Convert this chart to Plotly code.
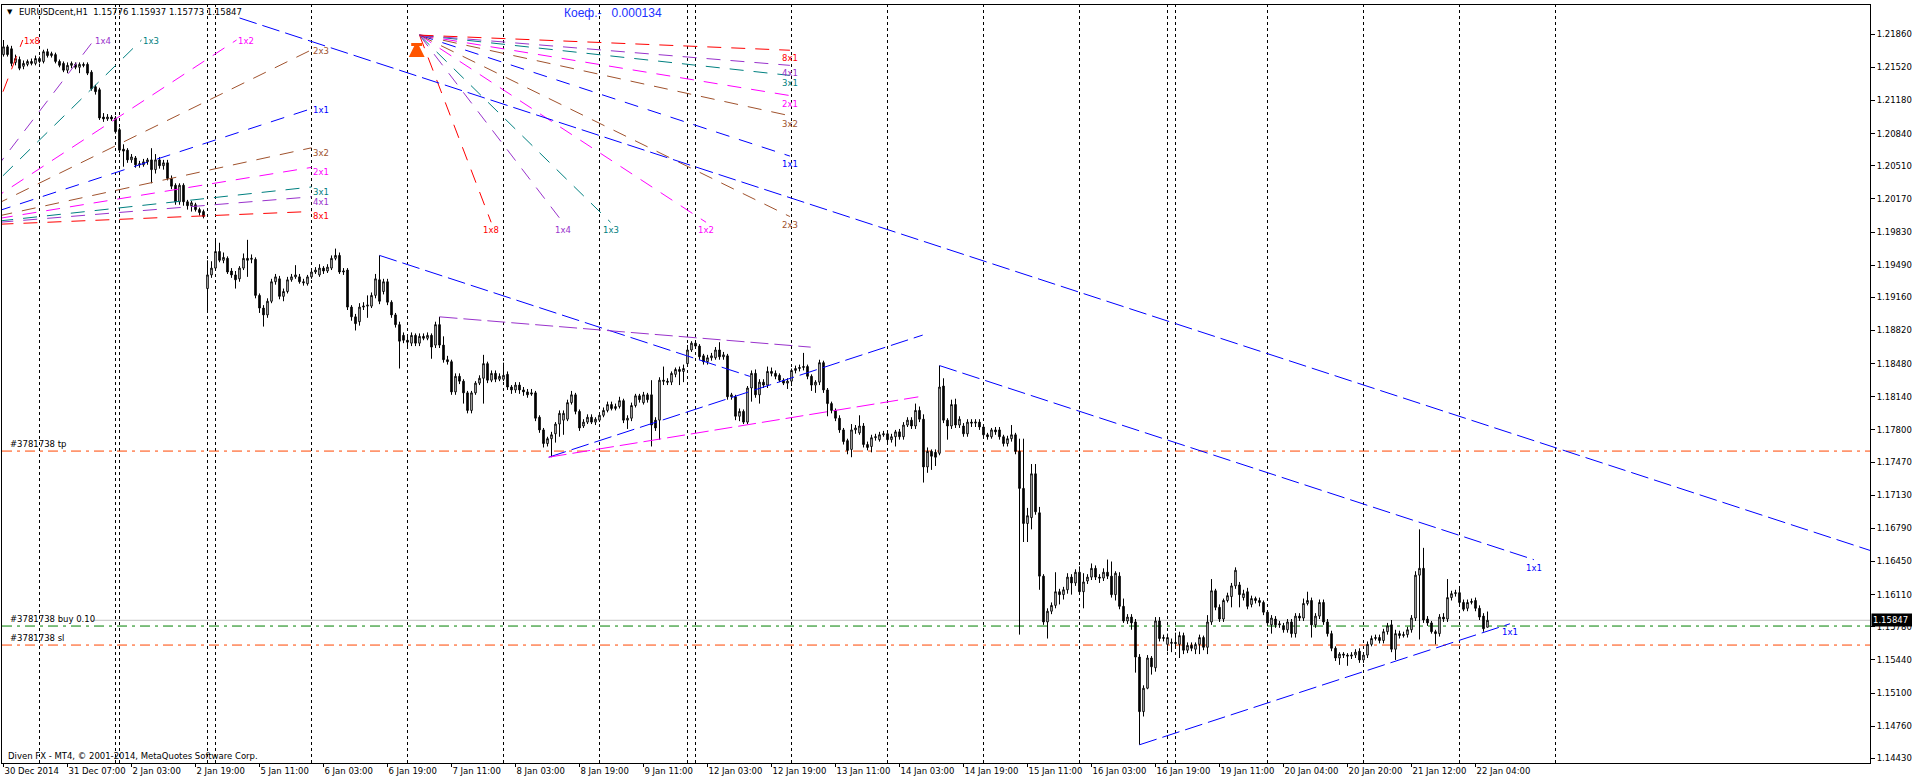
import plotly.graph_objects as go

# ---------------- data ----------------
time_labels = ["30 Dec 2014", "31 Dec 07:00", "2 Jan 03:00", "2 Jan 19:00", "5 Jan 11:00",
               "6 Jan 03:00", "6 Jan 19:00", "7 Jan 11:00", "8 Jan 03:00", "8 Jan 19:00",
               "9 Jan 11:00", "12 Jan 03:00", "12 Jan 19:00", "13 Jan 11:00", "14 Jan 03:00",
               "14 Jan 19:00", "15 Jan 11:00", "16 Jan 03:00", "16 Jan 19:00", "19 Jan 11:00",
               "20 Jan 04:00", "20 Jan 20:00", "21 Jan 12:00", "22 Jan 04:00"]
label_bars = [0, 16, 32, 48, 64, 80, 96, 112, 128, 144, 160, 176, 192, 208, 224,
              240, 256, 272, 288, 304, 320, 336, 352, 368]

opens = [
    1.2165, 1.2173, 1.2171, 1.2157, 1.2160, 1.2153, 1.2155, 1.2158, 1.2156, 1.2161,
    1.2158, 1.2168, 1.2164, 1.2165, 1.2158, 1.2156, 1.2149, 1.2154, 1.2155, 1.2152,
    1.2155, 1.2155, 1.2147, 1.2132, 1.2129, 1.2101, 1.2099, 1.2101, 1.2100, 1.2088,
    1.2068, 1.2067, 1.2057, 1.2059, 1.2052, 1.2052, 1.2055, 1.2057, 1.2047, 1.2057,
    1.2051, 1.2054, 1.2038, 1.2031, 1.2014, 1.2031, 1.2014, 1.2010, 1.2011, 1.2006,
    1.2004, 1.1925, 1.1939, 1.1946, 1.1963, 1.1954, 1.1956, 1.1943, 1.1939, 1.1935,
    1.1946, 1.1956, 1.1955, 1.1955, 1.1918, 1.1905, 1.1898, 1.1912, 1.1932, 1.1935,
    1.1917, 1.1922, 1.1934, 1.1937, 1.1937, 1.1932, 1.1930, 1.1937, 1.1942, 1.1939,
    1.1946, 1.1943, 1.1946, 1.1956, 1.1959, 1.1942, 1.1944, 1.1906, 1.1896, 1.1891,
    1.1906, 1.1907, 1.1907, 1.1918, 1.1934, 1.1922, 1.1932, 1.1911, 1.1898, 1.1888,
    1.1877, 1.1872, 1.1869, 1.1877, 1.1869, 1.1876, 1.1874, 1.1877, 1.1867, 1.1888,
    1.1867, 1.1852, 1.1850, 1.1819, 1.1835, 1.1830, 1.1818, 1.1800, 1.1818, 1.1828,
    1.1833, 1.1848, 1.1831, 1.1838, 1.1832, 1.1832, 1.1837, 1.1824, 1.1821, 1.1826,
    1.1821, 1.1819, 1.1818, 1.1818, 1.1793, 1.1780, 1.1766, 1.1771, 1.1776, 1.1786,
    1.1790, 1.1791, 1.1808, 1.1816, 1.1799, 1.1784, 1.1788, 1.1793, 1.1788, 1.1790,
    1.1795, 1.1800, 1.1806, 1.1802, 1.1804, 1.1810, 1.1790, 1.1792, 1.1805, 1.1815,
    1.1808, 1.1816, 1.1816, 1.1790, 1.1790, 1.1831, 1.1830, 1.1829, 1.1837, 1.1842,
    1.1840, 1.1848, 1.1862, 1.1869, 1.1866, 1.1856, 1.1850, 1.1854, 1.1854, 1.1862,
    1.1855, 1.1856, 1.1814, 1.1814, 1.1794, 1.1799, 1.1788, 1.1823, 1.1838, 1.1816,
    1.1829, 1.1826, 1.1840, 1.1838, 1.1836, 1.1831, 1.1828, 1.1830, 1.1841, 1.1843,
    1.1844, 1.1845, 1.1835, 1.1826, 1.1829, 1.1849, 1.1821, 1.1807, 1.1800, 1.1792,
    1.1780, 1.1769, 1.1760, 1.1780, 1.1777, 1.1784, 1.1765, 1.1763, 1.1772, 1.1770,
    1.1775, 1.1776, 1.1770, 1.1773, 1.1778, 1.1773, 1.1785, 1.1790, 1.1784, 1.1800,
    1.1791, 1.1742, 1.1758, 1.1757, 1.1756, 1.1825, 1.1790, 1.1784, 1.1806, 1.1785,
    1.1784, 1.1776, 1.1788, 1.1787, 1.1788, 1.1783, 1.1775, 1.1773, 1.1780, 1.1780,
    1.1773, 1.1766, 1.1771, 1.1775, 1.1758, 1.1720, 1.1684, 1.1690, 1.1735, 1.1695,
    1.1630, 1.1583, 1.1594, 1.1600, 1.1614, 1.1611, 1.1616, 1.1629, 1.1623, 1.1634,
    1.1614, 1.1625, 1.1629, 1.1638, 1.1629, 1.1628, 1.1634, 1.1630, 1.1611, 1.1630,
    1.1599, 1.1584, 1.1588, 1.1583, 1.1547, 1.1491, 1.1515, 1.1546, 1.1536, 1.1584,
    1.1566, 1.1560, 1.1561, 1.1562, 1.1560, 1.1569, 1.1554, 1.1559, 1.1555, 1.1560,
    1.1567, 1.1557, 1.1583, 1.1615, 1.1598, 1.1586, 1.1605, 1.1609, 1.1620, 1.1621,
    1.1608, 1.1614, 1.1601, 1.1607, 1.1605, 1.1603, 1.1593, 1.1580, 1.1586, 1.1580,
    1.1579, 1.1575, 1.1583, 1.1571, 1.1589, 1.1587, 1.1602, 1.1605, 1.1580, 1.1589,
    1.1603, 1.1583, 1.1571, 1.1556, 1.1546, 1.1550, 1.1549, 1.1548, 1.1549, 1.1553,
    1.1544, 1.1549, 1.1560, 1.1566, 1.1567, 1.1564, 1.1573, 1.1580, 1.1555, 1.1571,
    1.1569, 1.1570, 1.1575, 1.1587, 1.1631, 1.1638, 1.1586, 1.1582, 1.1573, 1.1571,
    1.1588, 1.1586, 1.1608, 1.1612, 1.1613, 1.1603, 1.1597, 1.1603, 1.1605, 1.1597,
    1.1589, 1.15776]

highs = [
    1.2180, 1.2175, 1.2174, 1.2165, 1.2163, 1.2159, 1.2160, 1.2161, 1.2164, 1.2163,
    1.2170, 1.2171, 1.2168, 1.2167, 1.2160, 1.2158, 1.2157, 1.2158, 1.2157, 1.2157,
    1.2157, 1.2157, 1.2149, 1.2134, 1.2131, 1.2105, 1.2104, 1.2103, 1.2102, 1.2090,
    1.2073, 1.2069, 1.2063, 1.2061, 1.2056, 1.2058, 1.2059, 1.2069, 1.2063, 1.2060,
    1.2057, 1.2057, 1.2041, 1.2033, 1.2033, 1.2033, 1.2016, 1.2015, 1.2013, 1.2008,
    1.2006, 1.1954, 1.1953, 1.1975, 1.1972, 1.1962, 1.1958, 1.1946, 1.1943, 1.1948,
    1.1961, 1.1975, 1.1960, 1.1957, 1.1920, 1.1908, 1.1915, 1.1935, 1.1940, 1.1938,
    1.1925, 1.1937, 1.1940, 1.1949, 1.1940, 1.1935, 1.1939, 1.1946, 1.1947, 1.1950,
    1.1948, 1.1950, 1.1959, 1.1966, 1.1962, 1.1946, 1.1946, 1.1908, 1.1899, 1.1910,
    1.1911, 1.1918, 1.1921, 1.1940, 1.1959, 1.1935, 1.1935, 1.1913, 1.1900, 1.1891,
    1.1880, 1.1876, 1.1880, 1.1879, 1.1879, 1.1879, 1.1880, 1.1879, 1.1891, 1.1896,
    1.1876, 1.1856, 1.1852, 1.1838, 1.1838, 1.1832, 1.1820, 1.1820, 1.1830, 1.1836,
    1.1857, 1.1850, 1.1841, 1.1841, 1.1838, 1.1849, 1.1840, 1.1826, 1.1829, 1.1829,
    1.1824, 1.1822, 1.1822, 1.1820, 1.1795, 1.1782, 1.1773, 1.1778, 1.1788, 1.1800,
    1.1800, 1.1811, 1.1820, 1.1818, 1.1801, 1.1791, 1.1796, 1.1796, 1.1793, 1.1798,
    1.1803, 1.1809, 1.1809, 1.1807, 1.1814, 1.1812, 1.1795, 1.1808, 1.1817, 1.1817,
    1.1819, 1.1818, 1.1831, 1.1793, 1.1834, 1.1845, 1.1833, 1.1840, 1.1844, 1.1845,
    1.1847, 1.1867, 1.1871, 1.1871, 1.1868, 1.1858, 1.1857, 1.1859, 1.1865, 1.1870,
    1.1860, 1.1858, 1.1818, 1.1816, 1.1802, 1.1801, 1.1825, 1.1841, 1.1842, 1.1832,
    1.1832, 1.1845, 1.1844, 1.1841, 1.1838, 1.1833, 1.1833, 1.1843, 1.1846, 1.1847,
    1.1859, 1.1847, 1.1837, 1.1831, 1.1852, 1.1851, 1.1823, 1.1809, 1.1802, 1.1795,
    1.1782, 1.1771, 1.1786, 1.1785, 1.1795, 1.1787, 1.1768, 1.1775, 1.1776, 1.1778,
    1.1779, 1.1779, 1.1776, 1.1780, 1.1781, 1.1788, 1.1793, 1.1793, 1.1807, 1.1804,
    1.1796, 1.1762, 1.1760, 1.1760, 1.1846, 1.1833, 1.1792, 1.1811, 1.1812, 1.1794,
    1.1787, 1.1791, 1.1791, 1.1791, 1.1791, 1.1785, 1.1777, 1.1782, 1.1783, 1.1783,
    1.1775, 1.1774, 1.1785, 1.1777, 1.1771, 1.1771, 1.1700, 1.1745, 1.1745, 1.1701,
    1.1632, 1.1597, 1.1603, 1.1634, 1.1617, 1.1619, 1.1633, 1.1632, 1.1637, 1.1640,
    1.1633, 1.1632, 1.1643, 1.1641, 1.1632, 1.1638, 1.1647, 1.1645, 1.1635, 1.1634,
    1.1607, 1.1591, 1.1591, 1.1586, 1.1550, 1.1518, 1.1549, 1.1548, 1.1588, 1.1588,
    1.1570, 1.1571, 1.1566, 1.1572, 1.1573, 1.1572, 1.1562, 1.1562, 1.1562, 1.1570,
    1.1569, 1.1590, 1.1627, 1.1617, 1.1601, 1.1607, 1.1613, 1.1623, 1.1639, 1.1624,
    1.1616, 1.1618, 1.1610, 1.1609, 1.1608, 1.1605, 1.1595, 1.1590, 1.1589, 1.1584,
    1.1582, 1.1586, 1.1586, 1.1592, 1.1592, 1.1607, 1.1614, 1.1608, 1.1592, 1.1606,
    1.1606, 1.1586, 1.1574, 1.1558, 1.1552, 1.1552, 1.1551, 1.1552, 1.1555, 1.1556,
    1.1552, 1.1563, 1.1569, 1.1570, 1.1570, 1.1576, 1.1582, 1.1585, 1.1575, 1.1574,
    1.1573, 1.1578, 1.1590, 1.1635, 1.1678, 1.1659, 1.1589, 1.1584, 1.1575, 1.1591,
    1.1592, 1.1627, 1.1615, 1.1616, 1.1618, 1.1606, 1.1606, 1.1607, 1.1608, 1.1600,
    1.1592, 1.15937]

lows = [
    1.2163, 1.2163, 1.2153, 1.2154, 1.2149, 1.2150, 1.2153, 1.2154, 1.2154, 1.2156,
    1.2156, 1.2162, 1.2162, 1.2156, 1.2152, 1.2147, 1.2146, 1.2151, 1.2150, 1.2146,
    1.2152, 1.2144, 1.2128, 1.2124, 1.2098, 1.2096, 1.2097, 1.2097, 1.2084, 1.2064,
    1.2050, 1.2054, 1.2054, 1.2049, 1.2049, 1.2050, 1.2052, 1.2033, 1.2043, 1.2048,
    1.2047, 1.2036, 1.2027, 1.2011, 1.2011, 1.2010, 1.2006, 1.2004, 1.2004, 1.2000,
    1.1997, 1.1903, 1.1936, 1.1944, 1.1952, 1.1951, 1.1940, 1.1936, 1.1925, 1.1932,
    1.1944, 1.1937, 1.1951, 1.1915, 1.1900, 1.1886, 1.1895, 1.1910, 1.1929, 1.1914,
    1.1912, 1.1920, 1.1932, 1.1935, 1.1930, 1.1928, 1.1928, 1.1935, 1.1940, 1.1937,
    1.1940, 1.1941, 1.1944, 1.1954, 1.1940, 1.1939, 1.1903, 1.1892, 1.1882, 1.1887,
    1.1903, 1.1895, 1.1905, 1.1915, 1.1909, 1.1919, 1.1908, 1.1895, 1.1885, 1.1843,
    1.1869, 1.1866, 1.1866, 1.1866, 1.1866, 1.1872, 1.1872, 1.1853, 1.1864, 1.1864,
    1.1849, 1.1847, 1.1816, 1.1816, 1.1827, 1.1807, 1.1797, 1.1797, 1.1816, 1.1826,
    1.1807, 1.1828, 1.1829, 1.1829, 1.1830, 1.1830, 1.1821, 1.1817, 1.1818, 1.1817,
    1.1815, 1.1813, 1.1815, 1.1789, 1.1777, 1.1762, 1.1763, 1.1752, 1.1767, 1.1773,
    1.1775, 1.1789, 1.1806, 1.1796, 1.1779, 1.1782, 1.1786, 1.1786, 1.1785, 1.1788,
    1.1793, 1.1798, 1.1800, 1.1800, 1.1802, 1.1787, 1.1781, 1.1789, 1.1803, 1.1808,
    1.1806, 1.1808, 1.1763, 1.1779, 1.1770, 1.1826, 1.1826, 1.1826, 1.1834, 1.1826,
    1.1829, 1.1845, 1.1860, 1.1863, 1.1852, 1.1847, 1.1847, 1.1851, 1.1852, 1.1852,
    1.1852, 1.1811, 1.1811, 1.1790, 1.1789, 1.1786, 1.1786, 1.1809, 1.1813, 1.1807,
    1.1823, 1.1823, 1.1835, 1.1832, 1.1829, 1.1826, 1.1822, 1.1825, 1.1838, 1.1840,
    1.1841, 1.1832, 1.1820, 1.1818, 1.1826, 1.1818, 1.1794, 1.1797, 1.1789, 1.1777,
    1.1765, 1.1755, 1.1752, 1.1776, 1.1775, 1.1762, 1.1759, 1.1757, 1.1769, 1.1768,
    1.1773, 1.1767, 1.1767, 1.1763, 1.1770, 1.1770, 1.1783, 1.1781, 1.1781, 1.1788,
    1.1726, 1.1736, 1.1739, 1.1743, 1.1754, 1.1787, 1.1770, 1.1781, 1.1782, 1.1782,
    1.1773, 1.1773, 1.1783, 1.1783, 1.1780, 1.1772, 1.1770, 1.1771, 1.1775, 1.1770,
    1.1763, 1.1763, 1.1768, 1.1755, 1.1570, 1.1665, 1.1665, 1.1678, 1.1693, 1.1616,
    1.1580, 1.1566, 1.1591, 1.1597, 1.1601, 1.1606, 1.1612, 1.1611, 1.1620, 1.1611,
    1.1597, 1.1622, 1.1626, 1.1626, 1.1623, 1.1625, 1.1627, 1.1608, 1.1605, 1.1596,
    1.1582, 1.1581, 1.1575, 1.1531, 1.1457, 1.1486, 1.1514, 1.1529, 1.1532, 1.1563,
    1.1563, 1.1553, 1.1552, 1.1556, 1.1546, 1.1550, 1.1551, 1.1553, 1.1550, 1.1550,
    1.1554, 1.1550, 1.1580, 1.1595, 1.1583, 1.1583, 1.1603, 1.1598, 1.1617, 1.1598,
    1.1605, 1.1596, 1.1598, 1.1602, 1.1599, 1.1590, 1.1579, 1.1571, 1.1577, 1.1577,
    1.1572, 1.1572, 1.1567, 1.1567, 1.1584, 1.1584, 1.1600, 1.1567, 1.1577, 1.1586,
    1.1580, 1.1568, 1.1553, 1.1543, 1.1539, 1.1546, 1.1538, 1.1545, 1.1546, 1.1541,
    1.1541, 1.1546, 1.1558, 1.1564, 1.1561, 1.1561, 1.1570, 1.1552, 1.1544, 1.1566,
    1.1567, 1.1567, 1.1572, 1.1584, 1.1565, 1.1582, 1.1579, 1.1571, 1.1560, 1.1568,
    1.1583, 1.1583, 1.1605, 1.1609, 1.1600, 1.1594, 1.1594, 1.1601, 1.1594, 1.1585,
    1.1573, 1.15773]

closes = [
    1.2173, 1.2165, 1.2156, 1.2161, 1.2151, 1.2156, 1.2158, 1.2156, 1.2161, 1.2158,
    1.2168, 1.2164, 1.2166, 1.2158, 1.2154, 1.2149, 1.2154, 1.2156, 1.2152, 1.2155,
    1.2154, 1.2146, 1.2130, 1.2127, 1.2100, 1.2099, 1.2101, 1.2099, 1.2086, 1.2067,
    1.2066, 1.2057, 1.2060, 1.2052, 1.2053, 1.2055, 1.2057, 1.2047, 1.2057, 1.2051,
    1.2054, 1.2038, 1.2030, 1.2014, 1.2031, 1.2014, 1.2010, 1.2013, 1.2006, 1.2003,
    1.1999, 1.1939, 1.1946, 1.1963, 1.1954, 1.1957, 1.1942, 1.1939, 1.1934, 1.1946,
    1.1956, 1.1954, 1.1956, 1.1918, 1.1905, 1.1898, 1.1912, 1.1932, 1.1937, 1.1917,
    1.1922, 1.1934, 1.1937, 1.1939, 1.1932, 1.1931, 1.1937, 1.1942, 1.1944, 1.1946,
    1.1943, 1.1947, 1.1956, 1.1959, 1.1942, 1.1943, 1.1906, 1.1896, 1.1889, 1.1906,
    1.1907, 1.1908, 1.1918, 1.1935, 1.1912, 1.1932, 1.1911, 1.1898, 1.1888, 1.1871,
    1.1872, 1.1870, 1.1877, 1.1869, 1.1876, 1.1874, 1.1877, 1.1865, 1.1888, 1.1867,
    1.1852, 1.1850, 1.1819, 1.1835, 1.1830, 1.1818, 1.1800, 1.1818, 1.1828, 1.1833,
    1.1848, 1.1831, 1.1838, 1.1832, 1.1835, 1.1836, 1.1824, 1.1821, 1.1826, 1.1821,
    1.1819, 1.1816, 1.1817, 1.1792, 1.1780, 1.1766, 1.1771, 1.1775, 1.1786, 1.1797,
    1.1797, 1.1808, 1.1816, 1.1799, 1.1782, 1.1788, 1.1793, 1.1788, 1.1791, 1.1795,
    1.1800, 1.1806, 1.1802, 1.1804, 1.1810, 1.1790, 1.1792, 1.1805, 1.1815, 1.1811,
    1.1816, 1.1811, 1.1785, 1.1782, 1.1831, 1.1830, 1.1829, 1.1838, 1.1842, 1.1840,
    1.1843, 1.1862, 1.1869, 1.1866, 1.1855, 1.1850, 1.1854, 1.1856, 1.1862, 1.1855,
    1.1857, 1.1814, 1.1816, 1.1794, 1.1799, 1.1788, 1.1823, 1.1838, 1.1816, 1.1829,
    1.1826, 1.1840, 1.1838, 1.1835, 1.1831, 1.1828, 1.1830, 1.1841, 1.1843, 1.1844,
    1.1845, 1.1835, 1.1826, 1.1829, 1.1849, 1.1821, 1.1807, 1.1800, 1.1792, 1.1780,
    1.1768, 1.1759, 1.1780, 1.1782, 1.1784, 1.1765, 1.1762, 1.1772, 1.1773, 1.1775,
    1.1776, 1.1770, 1.1773, 1.1778, 1.1773, 1.1785, 1.1790, 1.1784, 1.1800, 1.1791,
    1.1742, 1.1758, 1.1753, 1.1752, 1.1824, 1.1790, 1.1784, 1.1806, 1.1785, 1.1791,
    1.1776, 1.1788, 1.1787, 1.1788, 1.1783, 1.1775, 1.1773, 1.1780, 1.1778, 1.1773,
    1.1766, 1.1771, 1.1775, 1.1758, 1.1720, 1.1684, 1.1692, 1.1735, 1.1696, 1.1630,
    1.1583, 1.1594, 1.1600, 1.1614, 1.1611, 1.1616, 1.1629, 1.1623, 1.1634, 1.1614,
    1.1624, 1.1629, 1.1638, 1.1629, 1.1628, 1.1634, 1.1630, 1.1611, 1.1633, 1.1599,
    1.1584, 1.1588, 1.1582, 1.1547, 1.1491, 1.1515, 1.1546, 1.1537, 1.1584, 1.1566,
    1.1567, 1.1567, 1.1562, 1.1561, 1.1569, 1.1554, 1.1559, 1.1556, 1.1560, 1.1567,
    1.1557, 1.1583, 1.1615, 1.1598, 1.1586, 1.1605, 1.1610, 1.1620, 1.1636, 1.1611,
    1.1612, 1.1599, 1.1607, 1.1605, 1.1603, 1.1593, 1.1582, 1.1587, 1.1580, 1.1581,
    1.1575, 1.1583, 1.1571, 1.1589, 1.1587, 1.1602, 1.1605, 1.1580, 1.1589, 1.1603,
    1.1583, 1.1571, 1.1556, 1.1546, 1.1550, 1.1549, 1.1548, 1.1549, 1.1552, 1.1544,
    1.1549, 1.1560, 1.1566, 1.1567, 1.1564, 1.1573, 1.1579, 1.1555, 1.1571, 1.1569,
    1.1570, 1.1575, 1.1587, 1.1631, 1.1638, 1.1585, 1.1582, 1.1573, 1.1571, 1.1588,
    1.1586, 1.1608, 1.1612, 1.1613, 1.1603, 1.1596, 1.1603, 1.1604, 1.1597, 1.1588,
    1.1576, 1.15847]

price_ticks = [1.21860, 1.21520, 1.21180, 1.20840, 1.20510, 1.20170, 1.19830, 1.19490,
               1.19160, 1.18820, 1.18480, 1.18140, 1.17800, 1.17470, 1.17130, 1.16790,
               1.16450, 1.16110, 1.15780, 1.15440, 1.15100, 1.14760, 1.14430]

vline_bars = [9, 28, 29, 51, 53, 77, 101, 125, 149, 171, 173, 197, 221, 245, 269,
              291, 293, 316, 340, 364, 388]

bid_price = 1.15847
order_price = 1.15788
tp_price = 1.17583
sl_price = 1.15593

K = 0.000134   # "Коеф." price per bar of a 1x1 line
fan_names = ["1x8", "1x4", "1x3", "1x2", "2x3", "1x1", "3x2", "2x1", "3x1", "4x1", "8x1"]
fan_ratios = [8, 4, 3, 2, 1.5, 1, 2 / 3, 0.5, 1 / 3, 0.25, 0.125]
fan_colors = ["#FF0000", "#9932CC", "#008080", "#FF00FF", "#A0522D", "#0000FF",
              "#A0522D", "#FF00FF", "#008080", "#9932CC", "#FF0000"]

# fan anchors: origin bar, origin price, last bar, price limit, direction
fan_up = (-13, 1.1989, 77, 1.2180, 1)
fan_down = (104, 1.2185, 196.6, 1.1993, -1)
arrow_bar, arrow_price = 103.3, 1.21755

# trend lines: start bar, start price, end bar, ratio, direction, colour, label
trend_lines = [
    (59, 1.22026, 470, 1, -1, "#0000FF", ""),
    (94, 1.1959, 186.6, 1, -1, "#0000FF", ""),
    (109, 1.1896, 201.8, 0.25, -1, "#9932CC", ""),
    (136.3, 1.1752, 229.8, 1, 1, "#0000FF", ""),
    (136.3, 1.1752, 228.7, 0.5, 1, "#FF00FF", ""),
    (234, 1.1846, 382.6, 1, -1, "#0000FF", "1x1"),
    (284, 1.1457, 376.6, 1, 1, "#0000FF", "1x1"),
]

assert len(opens) == len(highs) == len(lows) == len(closes) == 372
bars = list(range(len(closes)))

# ---------------- layout constants ----------------
FONT = "DejaVu Sans"
FS = 8.5
W, H = 1912, 781
PL, PR, PT, PB = 2, 1870, 5, 763
X_MIN, X_MAX = -0.375, 466.625
Y_MIN, Y_MAX = 1.14383, 1.22159


def pxx(x):
    return (x - PL) / (PR - PL)


def pxy(y):
    return (PB - y) / (PB - PT)


fig = go.Figure()

# vertical dotted lines
for b in vline_bars:
    fig.add_shape(type="line", xref="x", yref="paper", x0=b, x1=b, y0=0, y1=1,
                  line=dict(color="black", width=1, dash="3px,3px"), layer="below")

# order lines
fig.add_shape(type="line", xref="paper", yref="y", x0=pxx(91), x1=1, y0=bid_price, y1=bid_price,
              line=dict(color="#C0C0C0", width=1), layer="below")
for p, col in [(order_price, "#008000"), (tp_price, "#FF4500"), (sl_price, "#FF4500")]:
    fig.add_shape(type="line", xref="paper", yref="y", x0=0, x1=1, y0=p, y1=p,
                  line=dict(color=col, width=1, dash="10px,5px,3px,5px"), layer="below")

# candles
fig.add_trace(go.Candlestick(
    x=bars, open=opens, high=highs, low=lows, close=closes,
    increasing=dict(line=dict(color="black", width=1), fillcolor="white"),
    decreasing=dict(line=dict(color="black", width=1), fillcolor="black"),
    whiskerwidth=0, hoverinfo="skip", showlegend=False))

annotations = []


def add_fan(origin_bar, origin_price, end_bar, limit_price, sign, up_style):
    for name, r, col in zip(fan_names, fan_ratios, fan_colors):
        slope = sign * K * r
        stop = origin_bar + (limit_price - origin_price) / slope
        eb = min(end_bar, stop)
        ep = origin_price + slope * (eb - origin_bar)
        fig.add_trace(go.Scatter(x=[origin_bar, eb], y=[origin_price, ep], mode="lines",
                                 line=dict(color=col, width=1, dash="14px,10px"),
                                 hoverinfo="skip", showlegend=False))
        if up_style:
            annotations.append(dict(x=eb, y=ep, xref="x", yref="y", text=name, showarrow=False,
                                    xanchor="left", yanchor="middle",
                                    yshift=-5 if r < 1 else -1, xshift=-1,
                                    font=dict(family=FONT, size=FS, color=col)))
        else:
            annotations.append(dict(x=eb, y=ep, xref="x", yref="y", text=name, showarrow=False,
                                    xanchor="center", yanchor="middle", yshift=-8,
                                    font=dict(family=FONT, size=FS, color=col)))


add_fan(*fan_up, up_style=True)
add_fan(*fan_down, up_style=False)

for sb, sp, eb, r, sign, col, lab in trend_lines:
    ep = sp + sign * K * r * (eb - sb)
    fig.add_trace(go.Scatter(x=[sb, eb], y=[sp, ep], mode="lines",
                             line=dict(color=col, width=1, dash="18px,6px"),
                             hoverinfo="skip", showlegend=False))
    if lab:
        annotations.append(dict(x=eb, y=ep, xref="x", yref="y", text=lab, showarrow=False,
                                xanchor="center", yanchor="middle", yshift=-8,
                                font=dict(family=FONT, size=FS, color=col)))

# arrow at the upper fan origin (head + shaft)
fig.add_trace(go.Scatter(x=[arrow_bar], y=[arrow_price], mode="markers",
                         marker=dict(symbol="arrow-bar-up", size=11, color="#FF5500",
                                     line=dict(width=3, color="#FF5500")),
                         hoverinfo="skip", showlegend=False))

# texts
annotations += [
    dict(xref="paper", yref="paper", x=pxx(5), y=pxy(12), text="▼", showarrow=False,
         xanchor="left", yanchor="middle", font=dict(family=FONT, size=7, color="black")),
    dict(xref="paper", yref="paper", x=pxx(17), y=pxy(12),
         text="EURUSDcent,H1\u00a0 1.15776 1.15937 1.15773 1.15847", showarrow=False,
         xanchor="left", yanchor="middle", font=dict(family=FONT, size=FS, color="black")),
    dict(xref="paper", yref="paper", x=pxx(562), y=pxy(13),
         text="Коеф.-\u00a0\u00a0 0.000134", showarrow=False,
         xanchor="left", yanchor="middle", font=dict(family="Liberation Sans", size=12, color="#2030FF")),
    dict(xref="paper", yref="paper", x=pxx(6), y=pxy(755.5),
         text="Diven FX - MT4, © 2001-2014, MetaQuotes Software Corp.", showarrow=False,
         xanchor="left", yanchor="middle", font=dict(family=FONT, size=FS, color="black")),
    dict(xref="paper", yref="y", x=pxx(8), y=tp_price, text="#3781738 tp", showarrow=False,
         xanchor="left", yanchor="bottom", font=dict(family=FONT, size=FS, color="black")),
    dict(xref="paper", yref="y", x=pxx(8), y=order_price, text="#3781738 buy 0.10", showarrow=False,
         xanchor="left", yanchor="bottom", font=dict(family=FONT, size=FS, color="black")),
    dict(xref="paper", yref="y", x=pxx(8), y=sl_price, text="#3781738 sl", showarrow=False,
         xanchor="left", yanchor="bottom", font=dict(family=FONT, size=FS, color="black")),
    dict(xref="paper", yref="y", x=1, y=bid_price, text="1.15847", showarrow=False,
         xanchor="left", yanchor="middle", xshift=1, bgcolor="black", borderpad=1,
         width=38, align="left", font=dict(family=FONT, size=FS, color="white")),
]

fig.update_layout(
    width=W, height=H,
    margin=dict(l=PL, r=W - PR, t=PT, b=H - PB, pad=0),
    paper_bgcolor="white", plot_bgcolor="white",
    showlegend=False, hovermode=False,
    boxgap=0.45,
    annotations=annotations,
    xaxis=dict(range=[X_MIN, X_MAX], showgrid=False, zeroline=False,
               rangeslider=dict(visible=False),
               tickmode="array", tickvals=label_bars, ticktext=time_labels,
               ticks="outside", ticklen=3, tickcolor="black", tickangle=0,
               ticklabelposition="outside right",
               tickfont=dict(family=FONT, size=FS, color="black"),
               showline=True, linecolor="black", linewidth=1, mirror=True,
               automargin=False, fixedrange=True),
    yaxis=dict(range=[Y_MIN, Y_MAX], side="right", showgrid=False, zeroline=False,
               tickmode="array", tickvals=price_ticks,
               ticktext=["%.5f" % v for v in price_ticks],
               ticks="outside", ticklen=4, tickcolor="black",
               tickfont=dict(family=FONT, size=FS, color="black"),
               showline=True, linecolor="black", linewidth=1, mirror=True,
               automargin=False, fixedrange=True),
)

fig.write_html("out.html", config={"displayModeBar": False},
               post_script="document.body.style.margin='0';document.body.style.overflow='hidden';")
